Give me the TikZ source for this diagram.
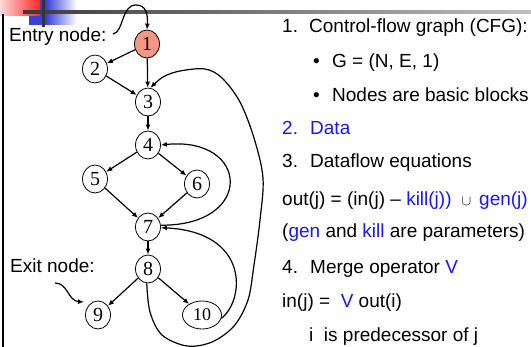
\documentclass[tikz,border=0pt]{standalone}
\usepackage{fontspec}
\setmainfont{Liberation Sans}
\newfontfamily\timesf{Liberation Serif}
\usetikzlibrary{shapes.geometric,arrows.meta}
\definecolor{tblue}{RGB}{25,25,235}
\definecolor{nodered}{RGB}{244,152,132}
\definecolor{decoblue}{RGB}{55,65,215}
\begin{document}
\begin{tikzpicture}[x=1pt,y=-1pt,
  cfg/.style={ellipse,draw,line width=0.8pt,minimum width=25pt,minimum height=28pt,inner sep=0pt,font=\timesf\fontsize{20}{20}\selectfont},
  edge/.style={line width=1.2pt,-{Latex[length=6pt,width=5pt]}},
  txt/.style={anchor=base west,inner sep=0pt,font=\fontsize{19}{22}\selectfont},
]
\useasboundingbox (0,0) rectangle (531,347);
% decoration
\fill[decoblue] (29,0) rectangle (46,25);
\shade[left color=decoblue,right color=white] (46,0) rectangle (77,25);
\shade[left color=red!15,right color=red!85] (0,0) rectangle (40,16);
\shade[left color=black!77,right color=black!25] (23,10.6) rectangle (531,13.6);
\fill[black!80] (42,0) rectangle (44.5,27);
\draw[line width=2pt] (3,14) -- (3,347);
% graph nodes
\node[cfg,fill=nodered] (n1) at (147,44) {1};
\node[cfg] (n2) at (95,69) {2};
\node[cfg] (n3) at (148,102) {3};
\node[cfg] (n4) at (148,145) {4};
\node[cfg] (n5) at (95,179) {5};
\node[cfg] (n6) at (197,184) {6};
\node[cfg] (n7) at (148,227) {7};
\node[cfg] (n8) at (148,269) {8};
\node[cfg] (n9) at (98,315) {9};
\node[cfg,minimum width=39pt,font=\timesf\fontsize{18}{18}\selectfont] (n10) at (202,315) {10};
% labels
\node[txt] (entry) at (9,42) {Entry node:};
\node[txt] (exit) at (10,273) {Exit node:};
\coordinate (es) at (113,34);
\coordinate (xs) at (55,283);
\coordinate (xe) at (84,302);
\draw[edge] (es) .. controls (124,32) and (121,5) .. (136,5) .. controls (146,5) and (148,14) .. (n1.north);
\draw[edge] (xs) .. controls (68,283) and (68,301) .. (xe);
% edges
\draw[edge] (n1) -- (n2);
\draw[edge] (n1) -- (n3);
\draw[edge] (n2) -- (n3);
\draw[edge] (n3) -- (n4);
\draw[edge] (n4) -- (n5);
\draw[edge] (n4) -- (n6);
\draw[edge] (n5) -- (n7);
\draw[edge] (n6) -- (n7);
\draw[edge] (n7) -- (n8);
\draw[edge] (n8) -- (n9);
\draw[edge] (n8) -- (n10);
\draw[edge] (n7.8) .. controls (255,226) and (250,136) .. (n4.east);
\draw[edge] (n10.-10) .. controls (245,300) and (250,232) .. (n7.-3);
\draw[edge] plot[smooth,tension=0.55] coordinates {(n8.265) (150,312) (162,335) (187,346) (212,342) (234,326) (248,300) (254,265) (260,220) (263,178) (254,138) (240,102) (222,78) (205,69) (180,71) (163,77) (n3.80)};
% text column
\node[txt] (a1) at (282,33) {1.};
\node[txt] (a1t) at (309,33) {Control-flow graph (CFG):};
\node[txt] (b1) at (313,68) {•};
\node[txt] (b1t) at (332,68) {G = (N, E, 1)};
\node[txt] (b2) at (313,102) {•};
\node[txt] (b2t) at (332,102) {Nodes are basic blocks};
\node[txt,text=tblue] (a2) at (282,135) {2.};
\node[txt,text=tblue] (a2t) at (310,135) {Data};
\node[txt] (a3) at (282,168) {3.};
\node[txt] (a3t) at (310,168) {Dataflow equations};
\node[txt] (eq1) at (282,206) {out(j) = (in(j) – \textcolor{tblue}{kill(j))}\hspace{10pt}{\fontsize{15}{15}\selectfont$\cup$}\hspace{8pt}\textcolor{tblue}{gen(j)}};
\node[txt] (eq2) at (282,238) {(\textcolor{tblue}{gen} and \textcolor{tblue}{kill} are parameters)};
\node[txt] (a4) at (282,274) {4.};
\node[txt] (a4t) at (310,274) {Merge operator \textcolor{tblue}{V}};
\node[txt] (eq3) at (282,308) {in(j) =\ \ \textcolor{tblue}{V} out(i)};
\node[txt] (eq4) at (309,342) {i\ \ is predecessor of j};
\end{tikzpicture}
\end{document}
